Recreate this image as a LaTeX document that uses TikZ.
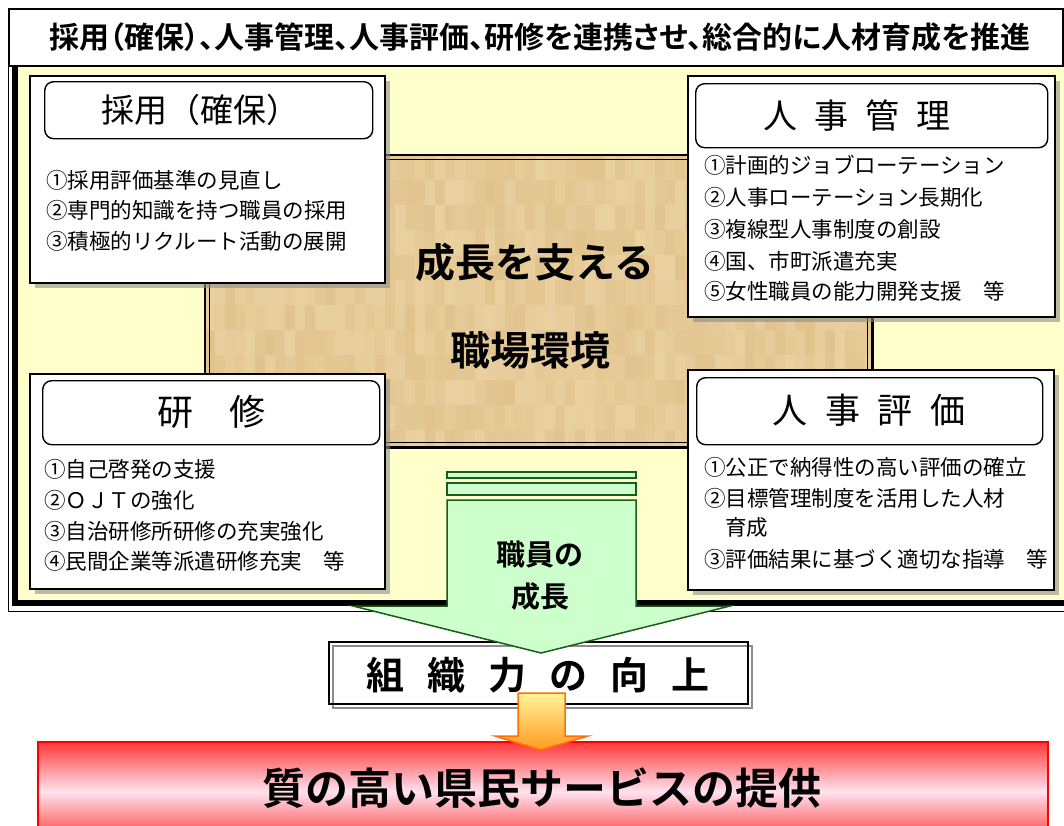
\documentclass[tikz,border=0pt]{standalone}
\usepackage{fontspec}
\setmainfont{Noto Sans CJK JP}
\newfontfamily\jpb{Noto Sans CJK JP Bold}
\newfontfamily\jpbp{Noto Sans CJK JP Bold}[RawFeature=+palt]
\usetikzlibrary{shadows}
\definecolor{bgyellow}{HTML}{FFFFCC}
\definecolor{woodA}{HTML}{EED7A8}
\definecolor{woodB}{HTML}{DDBC84}
\definecolor{arrowgreen}{HTML}{CCFFCC}
\definecolor{darkgreen}{HTML}{1A5C1A}
\definecolor{orgtop}{HTML}{FFF59A}
\definecolor{orgbot}{HTML}{FF9A1F}
\definecolor{orgline}{HTML}{FF7000}
\definecolor{redtop}{HTML}{FF3838}
\definecolor{redmid}{HTML}{FFE2EE}
\begin{document}
\begin{tikzpicture}[x=1pt,y=-1pt,
  card/.style={draw=black, line width=1.6, fill=white, anchor=north west, inner sep=0,
    drop shadow={shadow xshift=5pt, shadow yshift=-5pt, fill=black!45, opacity=.6}},
  hdr/.style={draw=black, line width=1.4, fill=white, rounded corners=9, anchor=north west, inner sep=0},
  hdrtext/.style={inner sep=0, font=\fontsize{34}{34}\selectfont},
  item/.style={anchor=west, inner sep=0, font=\fontsize{21.5}{21.5}\selectfont},
]
\useasboundingbox (0,0) rectangle (1064,825);
\fill[white] (0,0) rectangle (1064,825);

% yellow background area
\fill[bgyellow] (15,65) rectangle (1064,603);

% wood box (workplace environment)
\node[inner sep=0, minimum width=667, minimum height=292, anchor=north west] (env) at (205,155) {};
\begin{scope}
  \clip (205,155) rectangle (872,447);
  \fill[woodA!55!woodB] (205,155) rectangle (872,447);
  \pgfmathsetseed{12}
  \foreach \i in {0,...,66}{
    \foreach \j in {0,...,11}{
      \pgfmathsetmacro{\m}{rnd*100}
      \fill[woodA!\m!woodB, opacity=0.5] ({205+\i*10},{155+\j*25}) rectangle ++(10,25);
    }
  }
\end{scope}
\draw[line width=2.5] (env.north west) rectangle (env.south east);
\draw[line width=1.1] ([xshift=4.5pt,yshift=-4.5pt]env.north west) rectangle ([xshift=-4.5pt,yshift=4.5pt]env.south east);
\node[inner sep=0, font=\jpb\fontsize{40}{40}\selectfont] (envt1) at (535,262) {成長を支える};
\node[inner sep=0, font=\jpb\fontsize{40}{40}\selectfont] (envt2) at (530,350) {職場環境};

% card: recruitment
\node[card, minimum width=355, minimum height=207] (saiyo) at (29,75) {};
\node[hdr, minimum width=328, minimum height=57] (saiyoH) at (44,81) {};
\node[hdrtext, font=\fontsize{33}{33}\selectfont] (saiyoT) at (200,110) {採用（確保）};
\node[item] (s1) at (46,180) {①採用評価基準の見直し};
\node[item] (s2) at (46,210) {②専門的知識を持つ職員の採用};
\node[item] (s3) at (46,241) {③積極的リクルート活動の展開};

% card: personnel management
\node[card, minimum width=367, minimum height=241] (kanri) at (687,75) {};
\node[hdr, minimum width=352, minimum height=64] (kanriH) at (695,83) {};
\node[hdrtext] (kanriT) at (857,116) {人\hspace{17pt}事\hspace{17pt}管\hspace{17pt}理};
\node[item] (k1) at (704,165) {①計画的ジョブローテーション};
\node[item] (k2) at (704,197) {②人事ローテーション長期化};
\node[item] (k3) at (704,229) {③複線型人事制度の創設};
\node[item] (k4) at (704,261) {④国、市町派遣充実};
\node[item] (k5) at (704,291) {⑤女性職員の能力開発支援　等};

% card: training
\node[card, minimum width=355, minimum height=215] (kensyu) at (29,373) {};
\node[hdr, minimum width=337, minimum height=64] (kensyuH) at (42,380) {};
\node[hdrtext, font=\fontsize{36}{36}\selectfont] (kensyuT) at (211,412) {研\hspace{36pt}修};
\node[item] (r1) at (44,469) {①自己啓発の支援};
\node[item] (r2) at (44,500) {②ＯＪＴの強化};
\node[item] (r3) at (44,531) {③自治研修所研修の充実強化};
\node[item] (r4) at (44,561) {④民間企業等派遣研修充実　等};

% card: personnel evaluation
\node[card, minimum width=366, minimum height=220] (hyoka) at (687,369) {};
\node[hdr, minimum width=346, minimum height=67] (hyokaH) at (696,377) {};
\node[hdrtext, font=\fontsize{35}{35}\selectfont] (hyokaT) at (869,410) {人\hspace{18pt}事\hspace{18pt}評\hspace{18pt}価};
\node[item] (h1) at (704,467) {①公正で納得性の高い評価の確立};
\node[item] (h2) at (704,498) {②目標管理制度を活用した人材};
\node[item] (h2b) at (725,527) {育成};
\node[item] (h3) at (704,559) {③評価結果に基づく適切な指導　等};

% outer frame
\draw[line width=6] (15,65) -- (15,603) -- (1064,603);
\draw[line width=1] (8,8) -- (8,611) -- (1064,611);

% title box
\node[draw=black, line width=1.5, fill=white, anchor=north west, inner sep=0, minimum width=1054, minimum height=57] (title) at (8,8) {};
\node[inner sep=0, font=\jpbp\fontsize{30}{30}\selectfont] (titleT) at (540,37) {採用（確保）、人事管理、人事評価、研修を連携させ、総合的に人材育成を推進};

% organisational strength box
\fill[white] (328,641) rectangle (747,703);
\draw[black!45, line width=2.5] (333,646) rectangle (752,708);
\node[draw=black, line width=2, anchor=north west, inner sep=0, minimum width=419, minimum height=62] (soshiki) at (328,641) {};
\node[inner sep=0, font=\jpb\fontsize{38}{38}\selectfont] (soshikiT) at (538,675) {組\hspace{23pt}織\hspace{23pt}力\hspace{23pt}の\hspace{23pt}向\hspace{23pt}上};

% green arrow (staff growth)
\draw[darkgreen, fill=arrowgreen, line width=1.2] (447,472) rectangle (636,478);
\draw[darkgreen, fill=arrowgreen, line width=1.2] (447,483) rectangle (636,495);
\draw[darkgreen, fill=arrowgreen, line width=1.5, line join=miter]
  (447,500) -- (636,500) -- (636,606) -- (730,606) -- (541,653) -- (353,606) -- (447,606) -- cycle;
\node[inner sep=0, align=center, font=\jpb\fontsize{29}{42}\selectfont] (growth) at (540,576) {職員の\\成長};

% red result box
\node[draw=red, line width=1.5, anchor=north west, inner sep=0, minimum width=1010, minimum height=100,
  top color=redtop, bottom color=redtop, middle color=redmid] (service) at (37,741) {};
\node[inner sep=0, font=\jpb\fontsize{43}{43}\selectfont] (serviceT) at (542,788) {質の高い県民サービスの提供};

% orange arrow
\draw[orgline, line width=1.5, top color=orgtop, bottom color=orgbot, line join=miter]
  (518,693) -- (565,693) -- (565,736) -- (588,736) -- (541,750) -- (495,736) -- (518,736) -- cycle;

\end{tikzpicture}
\end{document}
